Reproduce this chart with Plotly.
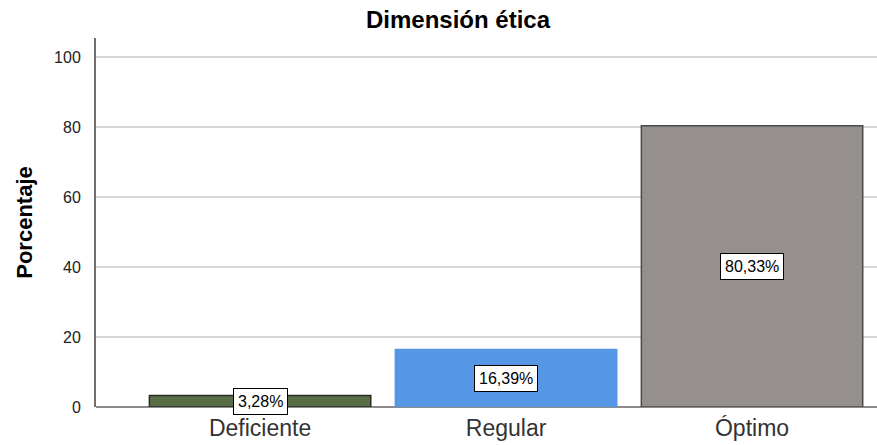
import plotly.graph_objects as go

categories = ["Deficiente", "Regular", "Óptimo"]
values = [3.28, 16.39, 80.33]
labels = ["3,28%", "16,39%", "80,33%"]
colors = ["#5a6e45", "#5596e5", "#958f8e"]
edge_colors = ["#2b2b2b", "#5596e5", "#4a4a4a"]
y_ticks = [0, 20, 40, 60, 80, 100]

fig = go.Figure()
fig.add_trace(go.Bar(
    x=list(range(len(categories))), y=values,
    marker=dict(color=colors, line=dict(color=edge_colors, width=1.5)),
    width=0.9, hoverinfo="skip", showlegend=False,
))

for i, (v, t) in enumerate(zip(values, labels)):
    fig.add_annotation(
        x=i, y=v / 2, text=t, showarrow=False,
        font=dict(family="Liberation Sans, Arial", size=16, color="#000000"),
        bgcolor="#ffffff", bordercolor="#000000", borderwidth=1, borderpad=4,
    )

fig.update_layout(
    width=877, height=445,
    margin=dict(l=96, r=0, t=38, b=38),
    paper_bgcolor="#ffffff", plot_bgcolor="#ffffff",
    font=dict(family="Liberation Sans, Arial", color="#222222"),
    title=dict(text="<b>Dimensión ética</b>", x=458 / 877, xanchor="center",
               y=1 - 20 / 445, yanchor="middle",
               font=dict(size=24, color="#000000")),
    xaxis=dict(
        range=[-0.667, 2.508], tickmode="array",
        tickvals=list(range(len(categories))), ticktext=categories,
        showgrid=False, zeroline=False, showline=False,
        tickfont=dict(size=23, color="#333333"), ticks="",
        ticklabelstandoff=5,
        automargin=False, fixedrange=True,
    ),
    yaxis=dict(
        range=[0, 105.4], tickvals=y_ticks,
        showgrid=True, gridcolor="#d6d6d6", gridwidth=1.5,
        zeroline=True, zerolinecolor="#8c8c8c", zerolinewidth=1.5,
        showline=True, linecolor="#6e6e6e", linewidth=2,
        ticks="", ticklabelstandoff=10,
        tickfont=dict(size=16, color="#222222"),
        title=dict(text="<b>Porcentaje</b>", font=dict(size=22, color="#000000")),
        automargin=False, fixedrange=True,
    ),
)

fig.write_html(
    "out.html",
    config={"displayModeBar": False},
    post_script="document.body.style.margin='0';document.body.style.overflow='hidden';",
)
